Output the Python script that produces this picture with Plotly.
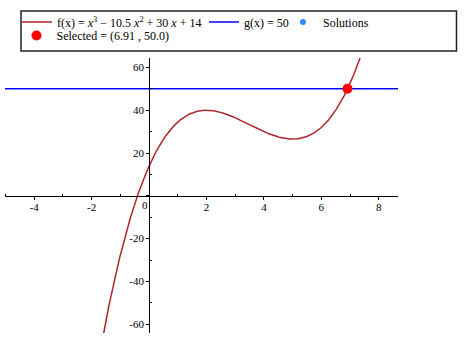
import numpy as np
import plotly.graph_objects as go

# ---- data ----
f_coeffs = [1.0, -10.5, 30.0, 14.0]      # f(x) = x^3 - 10.5 x^2 + 30 x + 14
g_value = 50.0                            # g(x) = 50
x_span = [-5.02, 8.67]
y_span = [-64.1, 64.4]
solution_x = [6.91]
solution_y = [50.0]
selected_x = [6.91]
selected_y = [50.0]
x_major_step, x_minor_start = 2, 1        # minor ticks at odd x
y_major_step, y_minor_start = 20, 10      # minor ticks at 10, 30, 50 ...
x_label_alias = {"0": " ", "−2": "-2", "−4": "-4"}
y_label_alias = {"0": " ", "−20": "-20", "−40": "-40", "−60": "-60"}

W, H = 466, 342
L, R, T, B = 5, 68, 58, 9

xs = np.linspace(x_span[0], x_span[1], 1200)
fy = np.polyval(f_coeffs, xs)

FONT = "Liberation Serif"

fig = go.Figure()
fig.add_trace(go.Scatter(
    x=xs, y=fy, mode="lines",
    line=dict(color="#b0242a", width=1.5),
    name="f(x) = <i>x</i><sup>3</sup> − 10.5 <i>x</i><sup>2</sup> + 30 <i>x</i> + 14",
    legend="legend"))
fig.add_trace(go.Scatter(
    x=x_span, y=[g_value, g_value], mode="lines",
    line=dict(color="#0000ff", width=1.5),
    name="g(x) = 50", legend="legend2"))
fig.add_trace(go.Scatter(
    x=solution_x, y=solution_y, mode="markers",
    marker=dict(color="#2f8fff", size=6),
    name="Solutions", legend="legend3"))
fig.add_trace(go.Scatter(
    x=selected_x, y=selected_y, mode="markers",
    marker=dict(color="#ff0000", size=10),
    name="Selected = (6.91 , 50.0)", legend="legend4"))

x_pos = (0 - x_span[0]) / (x_span[1] - x_span[0])
y_pos = (0 - y_span[0]) / (y_span[1] - y_span[0])

def leg(xpx, ypx):
    return dict(xref="container", yref="container",
                x=xpx / W, y=1 - ypx / H, xanchor="left", yanchor="middle",
                bgcolor="rgba(0,0,0,0)", borderwidth=0,
                font=dict(family=FONT, size=12, color="black"),
                itemwidth=30)

fig.update_layout(
    width=W, height=H,
    margin=dict(l=L, r=R, t=T, b=B, pad=0, autoexpand=False),
    paper_bgcolor="white", plot_bgcolor="white",
    font=dict(family=FONT, size=11, color="black"),
    showlegend=True,
    legend=leg(17, 22),
    legend2=leg(204, 22),
    legend3=leg(283, 22),
    legend4=leg(16.5, 35.5),
    xaxis=dict(range=x_span, anchor="free", position=y_pos,
               showline=True, linecolor="black", linewidth=1,
               showgrid=False, zeroline=False,
               ticks="outside", ticklen=3, tickcolor="black",
               tickmode="linear", tick0=0, dtick=x_major_step,
               labelalias=x_label_alias, ticklabelstandoff=-2,
               tickfont=dict(family=FONT, size=11),
               minor=dict(tickmode="linear", tick0=x_minor_start,
                          dtick=x_major_step,
                          ticks="inside", ticklen=2, tickcolor="black",
                          showgrid=False)),
    yaxis=dict(range=y_span, anchor="free", position=x_pos,
               showline=True, linecolor="black", linewidth=1,
               showgrid=False, zeroline=False,
               ticks="outside", ticklen=3, tickcolor="black",
               tickmode="linear", tick0=0, dtick=y_major_step,
               labelalias=y_label_alias,
               tickfont=dict(family=FONT, size=11),
               minor=dict(tickmode="linear", tick0=y_minor_start,
                          dtick=y_major_step,
                          ticks="inside", ticklen=2, tickcolor="black",
                          showgrid=False)),
)

fig.add_annotation(x=0, y=0, xref="x", yref="y", text="0", showarrow=False,
                   xanchor="center", yanchor="middle", xshift=-4.6, yshift=-9.5,
                   font=dict(family=FONT, size=11, color="black"))

pw, ph = W - L - R, H - T - B
fig.add_shape(type="rect", xref="paper", yref="paper",
              x0=(21 - L) / pw, x1=(456.5 - L) / pw,
              y0=(H - B - 51) / ph, y1=(H - B - 11) / ph,
              line=dict(color="#222222", width=1.5), fillcolor="rgba(0,0,0,0)")

fig.write_html("out.html")
